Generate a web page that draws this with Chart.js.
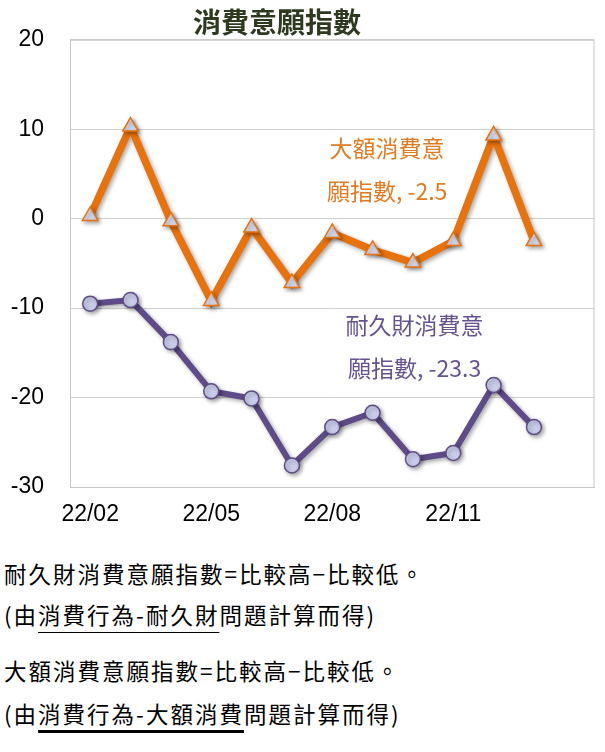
<!DOCTYPE html>
<html>
<head>
<meta charset="utf-8">
<script src="https://cdn.jsdelivr.net/npm/chart.js@4"></script>
<style>
  body { margin: 0; background: #fff; }
  #wrap { position: relative; width: 605px; height: 540px; }
  .note {
    position: absolute; left: 4px; font-family: "Noto Sans CJK TC", sans-serif;
    font-size: 22.5px; letter-spacing: 2px; line-height: 30px; color: #000; white-space: nowrap;
  }
  .u1 { text-decoration: underline; text-decoration-thickness: 1px; text-underline-offset: 8px; }
  .u2 { text-decoration: underline; text-decoration-thickness: 2.5px; text-underline-offset: 7px; }
</style>
</head>
<body>
<div id="wrap"><canvas id="chart"></canvas></div>
<div class="note" style="top:558px">耐久財消費意願指數=比較高−比較低。</div>
<div class="note" style="top:599px">(由<span class="u1">消費行為-耐久財</span>問題計算而得)</div>
<div class="note" style="top:655px">大額消費意願指數=比較高−比較低。</div>
<div class="note" style="top:698px">(由<span class="u2">消費行為-大額消費</span>問題計算而得)</div>
<script>
// months, last slot left empty like the original
const months = ["22/02", "22/03", "22/04", "22/05", "22/06", "22/07", "22/08",
  "22/09", "22/10", "22/11", "22/12", "23/01", "23/02"];
const tickLabels = ["22/02", "", "", "22/05", "", "", "22/08", "", "", "22/11", "", "", ""];
const bigSpend = [0.3, 10.3, -0.3, -9.2, -1.0, -7.2, -1.6, -3.5, -4.9, -2.5, 9.3, -2.5, null];
const durables = [-9.5, -9.1, -13.8, -19.3, -20.1, -27.6, -23.3, -21.7, -26.9, -26.2, -18.6, -23.3, null];
const yTicks = [20, 10, 0, -10, -20, -30];

const orange = "#E8720C";
const purple = "#5E4B87";

const extras = {
  id: "extras",
  beforeDatasetsDraw(chart) {
    const ctx = chart.ctx;
    ctx.save();
    ctx.shadowColor = "rgba(0,0,0,0.35)";
    ctx.shadowBlur = 4;
    ctx.shadowOffsetX = 2;
    ctx.shadowOffsetY = 2;
  },
  afterDatasetsDraw(chart) {
    chart.ctx.restore();
  },
  afterDraw(chart) {
    const ctx = chart.ctx, a = chart.chartArea;
    const x = chart.scales.x, y = chart.scales.y;
    ctx.save();
    ctx.strokeStyle = "#c8c8c8";
    ctx.lineWidth = 1;
    ctx.strokeRect(a.left + 0.5, a.top + 0.5, a.right - a.left - 1, a.bottom - a.top);
    // title
    ctx.fillStyle = "#2E3A1F";
    ctx.font = 'bold 28px "Noto Sans CJK TC"';
    ctx.textAlign = "center";
    ctx.textBaseline = "middle";
    ctx.fillText("消費意願指數", 277, 22);
    // series labels
    ctx.font = '23px "Noto Sans CJK TC"';
    ctx.fillStyle = "#E07B22";
    ctx.fillText("大額消費意", x.getPixelForValue(7.36), y.getPixelForValue(7.9));
    ctx.fillText("願指數, -2.5", x.getPixelForValue(7.36), y.getPixelForValue(3.1));
    ctx.fillStyle = "#65528F";
    ctx.fillText("耐久財消費意", x.getPixelForValue(8.04), y.getPixelForValue(-11.9));
    ctx.fillText("願指數, -23.3", x.getPixelForValue(8.04), y.getPixelForValue(-16.7));
    ctx.restore();
  }
};

new Chart(document.getElementById("chart"), {
  type: "line",
  data: {
    labels: months,
    datasets: [
      {
        label: "大額消費意願指數",
        data: bigSpend,
        borderColor: orange,
        borderWidth: 7.5,
        pointStyle: "triangle",
        pointRadius: 9,
        pointBorderWidth: 1.5,
        pointBorderColor: orange,
        pointBackgroundColor: "#D6DAEE",
        tension: 0
      },
      {
        label: "耐久財消費意願指數",
        data: durables,
        borderColor: purple,
        borderWidth: 6,
        pointStyle: "circle",
        pointRadius: 7.5,
        pointBorderWidth: 1.5,
        pointBorderColor: purple,
        pointBackgroundColor: "#C9CDEA",
        tension: 0
      }
    ]
  },
  options: {
    responsive: true,
    maintainAspectRatio: false,
    animation: false,
    layout: { padding: { top: 39, right: 9, left: 0, bottom: 0 } },
    plugins: { legend: { display: false }, tooltip: { enabled: false } },
    scales: {
      x: {
        offset: true,
        afterFit: s => { s.height = 53; },
        grid: { display: false, drawTicks: false },
        border: { color: "#c8c8c8" },
        ticks: {
          autoSkip: false, maxRotation: 0, padding: 14, color: "#000",
          font: { family: "Arial, 'Liberation Sans'", size: 23 },
          callback: (v, i) => tickLabels[i]
        }
      },
      y: {
        min: -30, max: 20,
        afterFit: s => { s.width = 70; },
        afterBuildTicks: s => { s.ticks = yTicks.map(v => ({ value: v })); },
        grid: { color: "#d0d0d0", drawTicks: false },
        border: { color: "#c8c8c8" },
        ticks: {
          padding: 26, color: "#000",
          font: { family: "Arial, 'Liberation Sans'", size: 23 }
        }
      }
    }
  },
  plugins: [extras]
});
</script>
</body>
</html>
